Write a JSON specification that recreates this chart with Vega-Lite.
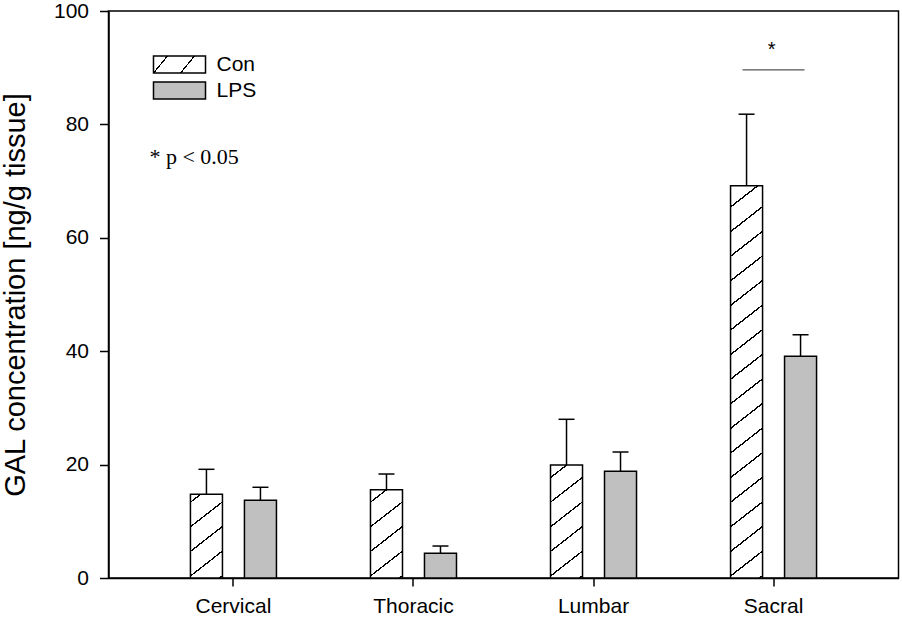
{
  "$schema": "https://vega.github.io/schema/vega-lite/v6.json",
  "width": 790,
  "height": 567,
  "padding": {"left": 1.5, "top": 0, "right": 4, "bottom": 2},
  "background": "white",
  "config": {
    "view": {"stroke": "black", "strokeWidth": 1.5},
    "font": "Liberation Sans",
    "axis": {"grid": false, "domainColor": "black", "domainWidth": 1.5, "tickColor": "black", "tickWidth": 1.5, "labelColor": "black", "titleColor": "black", "labelFont": "Liberation Sans", "titleFont": "Liberation Sans", "labelFontSize": 21}
  },
  "data": {"values": [
    {"region": "Cervical", "group": "Con", "value": 14.76, "upper": 19.17},
    {"region": "Cervical", "group": "LPS", "value": 13.7, "upper": 16.0},
    {"region": "Thoracic", "group": "Con", "value": 15.57, "upper": 18.34},
    {"region": "Thoracic", "group": "LPS", "value": 4.36, "upper": 5.64},
    {"region": "Lumbar", "group": "Con", "value": 19.93, "upper": 27.99},
    {"region": "Lumbar", "group": "LPS", "value": 18.82, "upper": 22.22},
    {"region": "Sacral", "group": "Con", "value": 69.2, "upper": 81.8},
    {"region": "Sacral", "group": "LPS", "value": 39.1, "upper": 42.9}
  ]},
  "layer": [
    {
      "mark": {"type": "bar", "stroke": "black", "strokeWidth": 1.5},
      "encoding": {
        "x": {"field": "region", "type": "nominal", "scale": {"domain": ["Cervical", "Thoracic", "Lumbar", "Sacral"], "paddingInner": 0.4, "paddingOuter": 0.394}, "axis": {"title": null, "labelAngle": 0, "tickSize": 8, "labelPadding": 9}},
        "xOffset": {"field": "group", "type": "nominal", "scale": {"domain": ["Con", "LPS"], "paddingInner": 0.407, "paddingOuter": 0.2037}},
        "y": {"field": "value", "type": "quantitative", "scale": {"domain": [0, 100], "nice": false}, "axis": {"values": [0, 20, 40, 60, 80, 100], "tickSize": 9, "labelPadding": 11, "title": "GAL concentration [ng/g tissue]", "titleFontSize": 29, "titleFontWeight": "normal", "titlePadding": 22.5}},
        "fill": {
          "field": "group", "type": "nominal",
          "scale": {"domain": ["Con", "LPS"], "range": [
            {"expr": "{gradient: 'linear', x1: 0, y1: 0, x2: 1, y2: 0.2692, stops: [{offset: 0, color: 'white'}, {offset: 0.237, color: 'white'}, {offset: 0.237, color: 'black'}, {offset: 0.265, color: 'black'}, {offset: 0.265, color: 'white'}, {offset: 0.721, color: 'white'}, {offset: 0.721, color: 'black'}, {offset: 0.749, color: 'black'}, {offset: 0.749, color: 'white'}, {offset: 1, color: 'white'}]}"},
            "#c0c0c0"
          ]},
          "legend": {"title": null, "orient": "none", "legendX": 60.5, "legendY": 43, "symbolType": "M-3.06,-1H3.06V1H-3.06Z", "symbolSize": 289, "symbolStrokeColor": "black", "symbolStrokeWidth": 1.5, "symbolOpacity": 1, "labelFontSize": 21, "labelOffset": 26.5, "rowPadding": 3, "padding": 0, "labelColor": "black", "labelFont": "Liberation Sans"},
          "condition": [
            {"test": "datum.group === 'Con' && datum.region === 'Cervical'", "value": {"gradient": "linear", "x1": 0, "y1": 0, "x2": 0.38834, "y2": 1.3, "stops": [
              {"offset": 0, "color": "white"},
              {"offset": 0.0596, "color": "white"}, {"offset": 0.0596, "color": "black"}, {"offset": 0.0736, "color": "black"}, {"offset": 0.0736, "color": "white"},
              {"offset": 0.2672, "color": "white"}, {"offset": 0.2672, "color": "black"}, {"offset": 0.2812, "color": "black"}, {"offset": 0.2812, "color": "white"},
              {"offset": 0.4747, "color": "white"}, {"offset": 0.4747, "color": "black"}, {"offset": 0.4888, "color": "black"}, {"offset": 0.4888, "color": "white"},
              {"offset": 0.6823, "color": "white"}, {"offset": 0.6823, "color": "black"}, {"offset": 0.6963, "color": "black"}, {"offset": 0.6963, "color": "white"},
              {"offset": 0.8899, "color": "white"}, {"offset": 0.8899, "color": "black"}, {"offset": 0.9039, "color": "black"}, {"offset": 0.9039, "color": "white"},
              {"offset": 1, "color": "white"}
            ]}},
            {"test": "datum.group === 'Con' && datum.region === 'Thoracic'", "value": {"gradient": "linear", "x1": 0, "y1": 0, "x2": 0.36815, "y2": 1.3, "stops": [
              {"offset": 0, "color": "white"},
              {"offset": 0.094, "color": "white"}, {"offset": 0.094, "color": "black"}, {"offset": 0.1074, "color": "black"}, {"offset": 0.1074, "color": "white"},
              {"offset": 0.2924, "color": "white"}, {"offset": 0.2924, "color": "black"}, {"offset": 0.3058, "color": "black"}, {"offset": 0.3058, "color": "white"},
              {"offset": 0.4909, "color": "white"}, {"offset": 0.4909, "color": "black"}, {"offset": 0.5043, "color": "black"}, {"offset": 0.5043, "color": "white"},
              {"offset": 0.6893, "color": "white"}, {"offset": 0.6893, "color": "black"}, {"offset": 0.7027, "color": "black"}, {"offset": 0.7027, "color": "white"},
              {"offset": 0.8877, "color": "white"}, {"offset": 0.8877, "color": "black"}, {"offset": 0.9011, "color": "black"}, {"offset": 0.9011, "color": "white"},
              {"offset": 1, "color": "white"}
            ]}},
            {"test": "datum.group === 'Con' && datum.region === 'Lumbar'", "value": {"gradient": "linear", "x1": 0, "y1": 0, "x2": 0.28761, "y2": 1.3, "stops": [
              {"offset": 0, "color": "white"},
              {"offset": 0.0764, "color": "white"}, {"offset": 0.0764, "color": "black"}, {"offset": 0.0872, "color": "black"}, {"offset": 0.0872, "color": "white"},
              {"offset": 0.236, "color": "white"}, {"offset": 0.236, "color": "black"}, {"offset": 0.2468, "color": "black"}, {"offset": 0.2468, "color": "white"},
              {"offset": 0.3957, "color": "white"}, {"offset": 0.3957, "color": "black"}, {"offset": 0.4065, "color": "black"}, {"offset": 0.4065, "color": "white"},
              {"offset": 0.5553, "color": "white"}, {"offset": 0.5553, "color": "black"}, {"offset": 0.5661, "color": "black"}, {"offset": 0.5661, "color": "white"},
              {"offset": 0.715, "color": "white"}, {"offset": 0.715, "color": "black"}, {"offset": 0.7258, "color": "black"}, {"offset": 0.7258, "color": "white"},
              {"offset": 0.8746, "color": "white"}, {"offset": 0.8746, "color": "black"}, {"offset": 0.8854, "color": "black"}, {"offset": 0.8854, "color": "white"},
              {"offset": 1, "color": "white"}
            ]}},
            {"test": "datum.group === 'Con' && datum.region === 'Sacral'", "value": {"gradient": "linear", "x1": 0, "y1": 0, "x2": 0.08283, "y2": 1.3, "stops": [
              {"offset": 0, "color": "white"},
              {"offset": 0.04, "color": "white"}, {"offset": 0.04, "color": "black"}, {"offset": 0.0434, "color": "black"}, {"offset": 0.0434, "color": "white"},
              {"offset": 0.0881, "color": "white"}, {"offset": 0.0881, "color": "black"}, {"offset": 0.0915, "color": "black"}, {"offset": 0.0915, "color": "white"},
              {"offset": 0.1361, "color": "white"}, {"offset": 0.1361, "color": "black"}, {"offset": 0.1395, "color": "black"}, {"offset": 0.1395, "color": "white"},
              {"offset": 0.1841, "color": "white"}, {"offset": 0.1841, "color": "black"}, {"offset": 0.1875, "color": "black"}, {"offset": 0.1875, "color": "white"},
              {"offset": 0.2322, "color": "white"}, {"offset": 0.2322, "color": "black"}, {"offset": 0.2356, "color": "black"}, {"offset": 0.2356, "color": "white"},
              {"offset": 0.2802, "color": "white"}, {"offset": 0.2802, "color": "black"}, {"offset": 0.2836, "color": "black"}, {"offset": 0.2836, "color": "white"},
              {"offset": 0.3282, "color": "white"}, {"offset": 0.3282, "color": "black"}, {"offset": 0.3316, "color": "black"}, {"offset": 0.3316, "color": "white"},
              {"offset": 0.3763, "color": "white"}, {"offset": 0.3763, "color": "black"}, {"offset": 0.3797, "color": "black"}, {"offset": 0.3797, "color": "white"},
              {"offset": 0.4243, "color": "white"}, {"offset": 0.4243, "color": "black"}, {"offset": 0.4277, "color": "black"}, {"offset": 0.4277, "color": "white"},
              {"offset": 0.4723, "color": "white"}, {"offset": 0.4723, "color": "black"}, {"offset": 0.4757, "color": "black"}, {"offset": 0.4757, "color": "white"},
              {"offset": 0.5203, "color": "white"}, {"offset": 0.5203, "color": "black"}, {"offset": 0.5237, "color": "black"}, {"offset": 0.5237, "color": "white"},
              {"offset": 0.5684, "color": "white"}, {"offset": 0.5684, "color": "black"}, {"offset": 0.5718, "color": "black"}, {"offset": 0.5718, "color": "white"},
              {"offset": 0.6164, "color": "white"}, {"offset": 0.6164, "color": "black"}, {"offset": 0.6198, "color": "black"}, {"offset": 0.6198, "color": "white"},
              {"offset": 0.6645, "color": "white"}, {"offset": 0.6645, "color": "black"}, {"offset": 0.6679, "color": "black"}, {"offset": 0.6679, "color": "white"},
              {"offset": 0.7125, "color": "white"}, {"offset": 0.7125, "color": "black"}, {"offset": 0.7159, "color": "black"}, {"offset": 0.7159, "color": "white"},
              {"offset": 0.7605, "color": "white"}, {"offset": 0.7605, "color": "black"}, {"offset": 0.7639, "color": "black"}, {"offset": 0.7639, "color": "white"},
              {"offset": 0.8086, "color": "white"}, {"offset": 0.8086, "color": "black"}, {"offset": 0.812, "color": "black"}, {"offset": 0.812, "color": "white"},
              {"offset": 1, "color": "white"}
            ]}}
          ]
        }
      }
    },
    {
      "mark": {"type": "rule", "stroke": "black", "strokeWidth": 1.5},
      "encoding": {
        "x": {"field": "region", "type": "nominal"},
        "xOffset": {"field": "group", "type": "nominal"},
        "y": {"field": "value", "type": "quantitative"},
        "y2": {"field": "upper"}
      }
    },
    {
      "mark": {"type": "tick", "color": "black", "opacity": 1, "thickness": 1.5, "size": 16},
      "encoding": {
        "x": {"field": "region", "type": "nominal"},
        "xOffset": {"field": "group", "type": "nominal"},
        "y": {"field": "upper", "type": "quantitative"}
      }
    },
    {
      "data": {"values": [{}]},
      "mark": {"type": "tick", "color": "#555555", "opacity": 1, "thickness": 1.3, "size": 62},
      "encoding": {
        "x": {"datum": "Sacral", "type": "nominal"},
        "y": {"datum": 89.6, "type": "quantitative"}
      }
    },
    {
      "data": {"values": [{}]},
      "mark": {"type": "text", "text": "*", "fontSize": 20, "font": "Liberation Sans", "color": "black", "baseline": "alphabetic", "align": "center", "dx": -2},
      "encoding": {
        "x": {"datum": "Sacral", "type": "nominal"},
        "y": {"datum": 92.0, "type": "quantitative"}
      }
    },
    {
      "data": {"values": [{}]},
      "mark": {"type": "text", "text": "* p < 0.05", "fontSize": 22, "font": "Liberation Serif", "color": "black", "baseline": "middle", "align": "left", "dx": -84},
      "encoding": {
        "x": {"datum": "Cervical", "type": "nominal"},
        "y": {"datum": 74.2, "type": "quantitative"}
      }
    }
  ]
}
